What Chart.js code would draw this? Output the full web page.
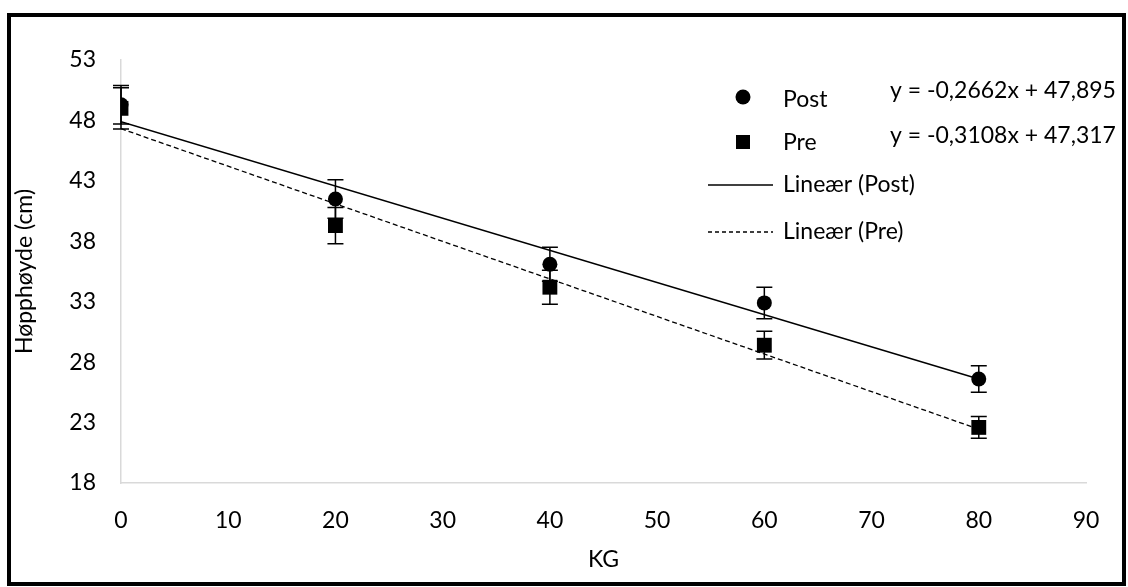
<!DOCTYPE html>
<html>
<head>
<meta charset="utf-8">
<title>Hopphøyde</title>
<script src="https://cdn.jsdelivr.net/npm/chart.js@4.4.1/dist/chart.umd.min.js"></script>
<style>
  html, body { margin: 0; padding: 0; background: #fff; }
  #wrap { position: relative; width: 1128px; height: 587px; }
  #frame { position: absolute; left: 7px; top: 13px; width: 1111px; height: 565px; border: 4px solid #000; pointer-events: none; }
</style>
</head>
<body>
<div id="wrap">
  <canvas id="jumpChart" width="1128" height="587"></canvas>
  <div id="frame"></div>
</div>
<script>
// belastning (kg) og gjennomsnittlig hopphøyde (cm) med standardavvik
const kg = [0, 20, 40, 60, 80];
const postMean = [49.3, 41.5, 36.1, 32.9, 26.6];
const postErr = [1.6, 1.6, 1.4, 1.3, 1.1];
const preMean = [49.0, 39.3, 34.2, 29.4, 22.6];
const preErr = [1.7, 1.5, 1.4, 1.15, 0.9];

// lineære trendlinjer: [stigning, konstantledd]
const postFit = [-0.2662, 47.895];
const preFit = [-0.3108, 47.317];
const postEq = 'y = -0,2662x + 47,895';
const preEq = 'y = -0,3108x + 47,317';

const yMin = 18, yMax = 53, yStep = 5;
const xMin = 0, xMax = 90, xStep = 10;

const FONT = 'Lato';
const FONT_SIZE = 23;

const toPoints = (xs, ys) => xs.map((v, i) => ({ x: v, y: ys[i] }));
const fitLine = (fit) => {
	const x0 = kg[0], x1 = kg[kg.length - 1];
	return [{ x: x0, y: fit[0] * x0 + fit[1] }, { x: x1, y: fit[0] * x1 + fit[1] }];
};

const errorBars = {
	id: 'errorBars',
	afterDatasetsDraw(chart) {
		const { ctx, scales: { x, y } } = chart;
		ctx.save();
		ctx.strokeStyle = '#000';
		ctx.lineWidth = 1.5;
		[[postMean, postErr], [preMean, preErr]].forEach(([means, errs]) => {
			means.forEach((m, i) => {
				const px = x.getPixelForValue(kg[i]);
				const top = y.getPixelForValue(m + errs[i]);
				const bot = y.getPixelForValue(m - errs[i]);
				ctx.beginPath();
				ctx.moveTo(px, top);
				ctx.lineTo(px, bot);
				ctx.moveTo(px - 8, top);
				ctx.lineTo(px + 8, top);
				ctx.moveTo(px - 8, bot);
				ctx.lineTo(px + 8, bot);
				ctx.stroke();
			});
		});
		ctx.restore();
	}
};

// forklaring med trendlinjeligninger oppe til høyre
const sideLegend = {
	id: 'sideLegend',
	afterDraw(chart) {
		const ctx = chart.ctx;
		ctx.save();
		ctx.fillStyle = '#000';
		ctx.strokeStyle = '#000';
		ctx.font = FONT_SIZE + 'px ' + FONT;
		ctx.textBaseline = 'middle';
		ctx.textAlign = 'left';

		ctx.beginPath();
		ctx.arc(743, 97, 7.5, 0, Math.PI * 2);
		ctx.fill();
		ctx.fillText('Post', 783, 100);
		ctx.fillText(postEq, 890, 91);

		ctx.fillRect(736, 135, 14, 14);
		ctx.fillText('Pre', 783, 143);
		ctx.fillText(preEq, 890, 136);

		ctx.lineWidth = 1.5;
		ctx.beginPath();
		ctx.moveTo(708, 185);
		ctx.lineTo(773, 185);
		ctx.stroke();
		ctx.fillText('Lineær (Post)', 783, 185);

		ctx.lineWidth = 1.3;
		ctx.setLineDash([4, 3]);
		ctx.beginPath();
		ctx.moveTo(708, 232);
		ctx.lineTo(773, 232);
		ctx.stroke();
		ctx.setLineDash([]);
		ctx.fillText('Lineær (Pre)', 783, 232);
		ctx.restore();
	}
};

Chart.defaults.font.family = FONT;
Chart.defaults.font.size = FONT_SIZE;
Chart.defaults.color = '#000';

new Chart(document.getElementById('jumpChart'), {
	type: 'scatter',
	data: {
		datasets: [
			{
				label: 'Post',
				data: toPoints(kg, postMean),
				pointStyle: 'circle',
				pointRadius: 7.5,
				backgroundColor: '#000',
				borderColor: '#000',
				borderWidth: 0,
				order: 0
			},
			{
				label: 'Pre',
				data: toPoints(kg, preMean),
				pointStyle: 'rect',
				pointRadius: 10.5,
				backgroundColor: '#000',
				borderColor: '#000',
				borderWidth: 0,
				order: 0
			},
			{
				label: 'Lineær (Post)',
				data: fitLine(postFit),
				showLine: true,
				pointRadius: 0,
				borderColor: '#000',
				borderWidth: 1.5,
				order: 1
			},
			{
				label: 'Lineær (Pre)',
				data: fitLine(preFit),
				showLine: true,
				pointRadius: 0,
				borderColor: '#000',
				borderWidth: 1.3,
				borderDash: [5, 3],
				order: 1
			}
		]
	},
	options: {
		responsive: false,
		animation: false,
		layout: { padding: { left: 0, right: 42, top: 60, bottom: 0 } },
		plugins: {
			legend: { display: false },
			tooltip: { enabled: false }
		},
		scales: {
			x: {
				type: 'linear',
				min: xMin,
				max: xMax,
				ticks: { stepSize: xStep, padding: 24 },
				grid: { display: false, drawTicks: false },
				border: { color: '#d9d9d9', width: 1.5 },
				title: { display: true, text: 'KG', padding: { top: 0, bottom: 14 } },
				afterFit: (scale) => { scale.height = 104; }
			},
			y: {
				type: 'linear',
				min: yMin,
				max: yMax,
				ticks: { stepSize: yStep, padding: 25 },
				grid: { display: false, drawTicks: false },
				border: { color: '#d9d9d9', width: 1.5 },
				title: { display: true, text: 'Høpphøyde (cm)', padding: { top: 11, bottom: 0 } },
				afterFit: (scale) => { scale.width = 121; }
			}
		}
	},
	plugins: [errorBars, sideLegend]
});
</script>
</body>
</html>
